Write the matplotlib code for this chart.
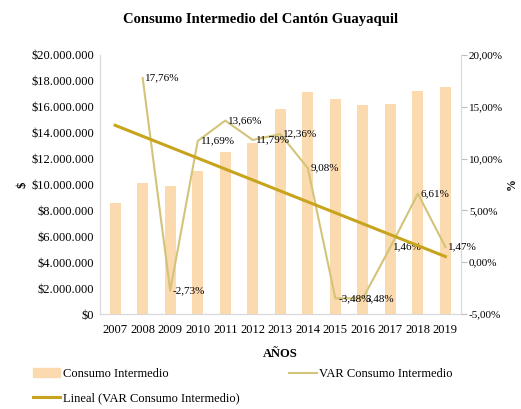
import numpy as np
import matplotlib
matplotlib.use("Agg")
import matplotlib.pyplot as plt
from matplotlib.ticker import FuncFormatter
from matplotlib.patches import Patch
from matplotlib.lines import Line2D

plt.rcParams["font.family"] = ["Liberation Serif", "DejaVu Serif"]

# ---- datos ----
years = [2007, 2008, 2009, 2010, 2011, 2012, 2013, 2014, 2015, 2016, 2017, 2018, 2019]
consumo = [8570000, 10100000, 9900000, 11000000, 12500000, 13200000, 15800000,
           17100000, 16600000, 16100000, 16200000, 17200000, 17500000]
var_years = [2008, 2009, 2010, 2011, 2012, 2013, 2014, 2015, 2016, 2017, 2018, 2019]
var_consumo = [17.76, -2.73, 11.69, 13.66, 11.79, 12.36, 9.08, -3.48, -3.48, 1.46, 6.61, 1.47]
var_labels = ["17,76%", "-2,73%", "11,69%", "13,66%", "11,79%", "12,36%", "9,08%",
              "-3,48%", "3,48%", "1,46%", "6,61%", "1,47%"]

c_bar = "#FCDAB0"
c_var = "#D3C479"
c_trend = "#C8A41E"

fig = plt.figure(figsize=(5.21, 4.09), dpi=100)
ax = fig.add_axes([0.192, 0.232, 0.692, 0.634])
ax2 = ax.twinx()

x = np.arange(len(years))
ax.bar(x, consumo, width=0.4, color=c_bar, zorder=1)
ax.set_ylim(0, 20000000)
ax.set_yticks(np.arange(0, 20000001, 2000000))
ax.yaxis.set_major_formatter(FuncFormatter(lambda v, p: "$" + f"{int(v):,}".replace(",", ".")))
ax.set_xticks(x)
ax.set_xticklabels([str(y) for y in years])
ax.set_xlim(-0.55, len(years) - 0.45)
ax.set_ylabel("$", fontsize=9, fontweight="bold", labelpad=2)
ax.set_xlabel("AÑOS", fontsize=9, fontweight="bold", labelpad=9)
ax.tick_params(axis="y", length=0, labelsize=9, pad=4)
ax.tick_params(axis="x", length=0, labelsize=9, pad=7)

# VAR
vx = np.array([years.index(y) for y in var_years])
ax2.plot(vx, var_consumo, color=c_var, lw=1.5, zorder=3)
# tendencia lineal (Excel)
coef = np.polyfit(vx, var_consumo, 1)
tx = np.array([0, len(years) - 1])
ax2.plot(tx, np.polyval(coef, tx), color=c_trend, lw=2.2, zorder=4)

for xi, yi, lab in zip(vx, var_consumo, var_labels):
    ax2.annotate(lab, (xi, yi), xytext=(2, 0), textcoords="offset points",
                 ha="left", va="center", fontsize=8)

ax2.set_ylim(-5, 20)
ax2.set_yticks(np.arange(-5, 20.1, 5))
ax2.yaxis.set_major_formatter(FuncFormatter(lambda v, p: f"{v:.2f}".replace(".", ",") + "%"))
ax2.tick_params(axis="y", length=4, color="#BFBFBF", labelsize=8, pad=2)
ax2.set_ylabel("%", fontsize=8.5, fontweight="bold", rotation=90, labelpad=2)

for a in (ax, ax2):
    a.spines["top"].set_visible(False)
    a.spines["left"].set_color("#D9D9D9")
    a.spines["bottom"].set_color("#D9D9D9")
    a.spines["right"].set_color("#D9D9D9")

fig.suptitle("Consumo Intermedio del Cantón Guayaquil", x=0.5, y=0.968,
             fontsize=10.5, fontweight="bold")

handles = [Patch(color=c_bar), Line2D([], [], color=c_trend, lw=2.2),
           Line2D([], [], color=c_var, lw=1.5)]
labels = ["Consumo Intermedio", "Lineal (VAR Consumo Intermedio)", "VAR Consumo Intermedio"]
fig.legend(handles, labels, ncol=2, loc="upper left", bbox_to_anchor=(0.063, 0.1),
           frameon=False, fontsize=9, handlelength=2.2, handletextpad=0.2,
           columnspacing=4.0, labelspacing=1.0, borderaxespad=0, borderpad=0)

fig.savefig("out.png", dpi=100)
